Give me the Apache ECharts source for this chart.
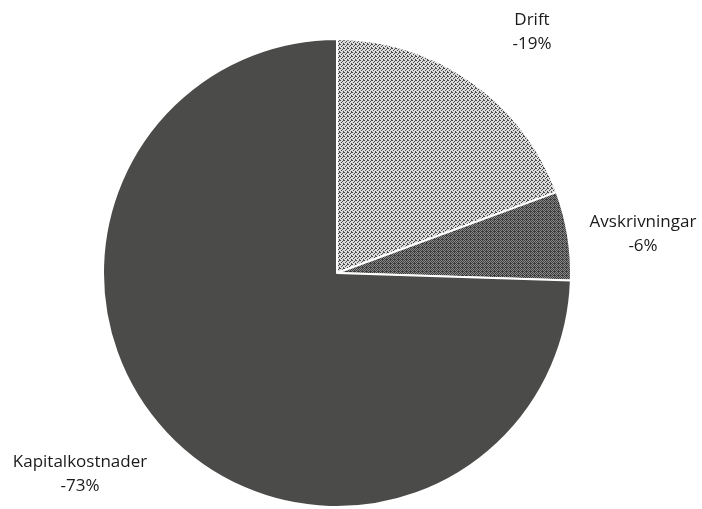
<!DOCTYPE html>
<html>
<head>
<meta charset="utf-8">
<script src="https://cdn.jsdelivr.net/npm/echarts@6/dist/echarts.min.js"></script>
<style>
  html, body { margin: 0; padding: 0; background: #fff; }
  #chart { width: 702px; height: 509px; }
</style>
</head>
<body>
<div id="chart"></div>
<script>
const categories = ['Drift', 'Avskrivningar', 'Kapitalkostnader'];
const values = [19, 6, 73];

// stipple textures for the two small slices
const makeStipple = (bg, fg, step) => {
  const c = document.createElement('canvas');
  c.width = 4;
  c.height = 4;
  const ctx = c.getContext('2d');
  ctx.fillStyle = bg;
  ctx.fillRect(0, 0, 4, 4);
  ctx.fillStyle = fg;
  const dots = step === 1
    ? [[0, 0], [2, 1], [1, 2], [3, 3], [3, 0]]
    : [[0, 0], [2, 0], [1, 1], [3, 1], [0, 2], [2, 2], [1, 3], [3, 3], [2, 3]];
  dots.forEach(([x, y]) => ctx.fillRect(x, y, 1, 1));
  return c;
};

const sliceColors = [
  { image: makeStipple('#dcdcdc', '#4a4a4a', 1), repeat: 'repeat' },
  { image: makeStipple('#8a8a8a', '#3c3c3c', 2), repeat: 'repeat' },
  '#4b4b49'
];

const labelPos = [
  { x: 532, y: 32 },
  { x: 643, y: 234 },
  { x: 80, y: 474 }
];

const chart = echarts.init(document.getElementById('chart'));
chart.setOption({
  backgroundColor: '#fff',
  animation: false,
  series: [{
    type: 'pie',
    center: [337, 273],
    radius: 234,
    startAngle: 90,
    clockwise: true,
    data: categories.map((name, i) => ({
      name,
      value: values[i],
      itemStyle: { color: sliceColors[i] }
    })),
    itemStyle: { borderColor: '#fff', borderWidth: 2 },
    label: {
      show: true,
      position: 'outside',
      formatter: '{b}\n-{c}%',
      fontFamily: 'Open Sans',
      fontSize: 17,
      lineHeight: 24,
      color: '#1a1a1a',
      align: 'center',
      overflow: 'none'
    },
    labelLine: { show: false },
    labelLayout: (params) => ({
      x: labelPos[params.dataIndex].x,
      y: labelPos[params.dataIndex].y,
      align: 'center',
      verticalAlign: 'middle',
      hideOverlap: false
    })
  }]
});
</script>
</body>
</html>
